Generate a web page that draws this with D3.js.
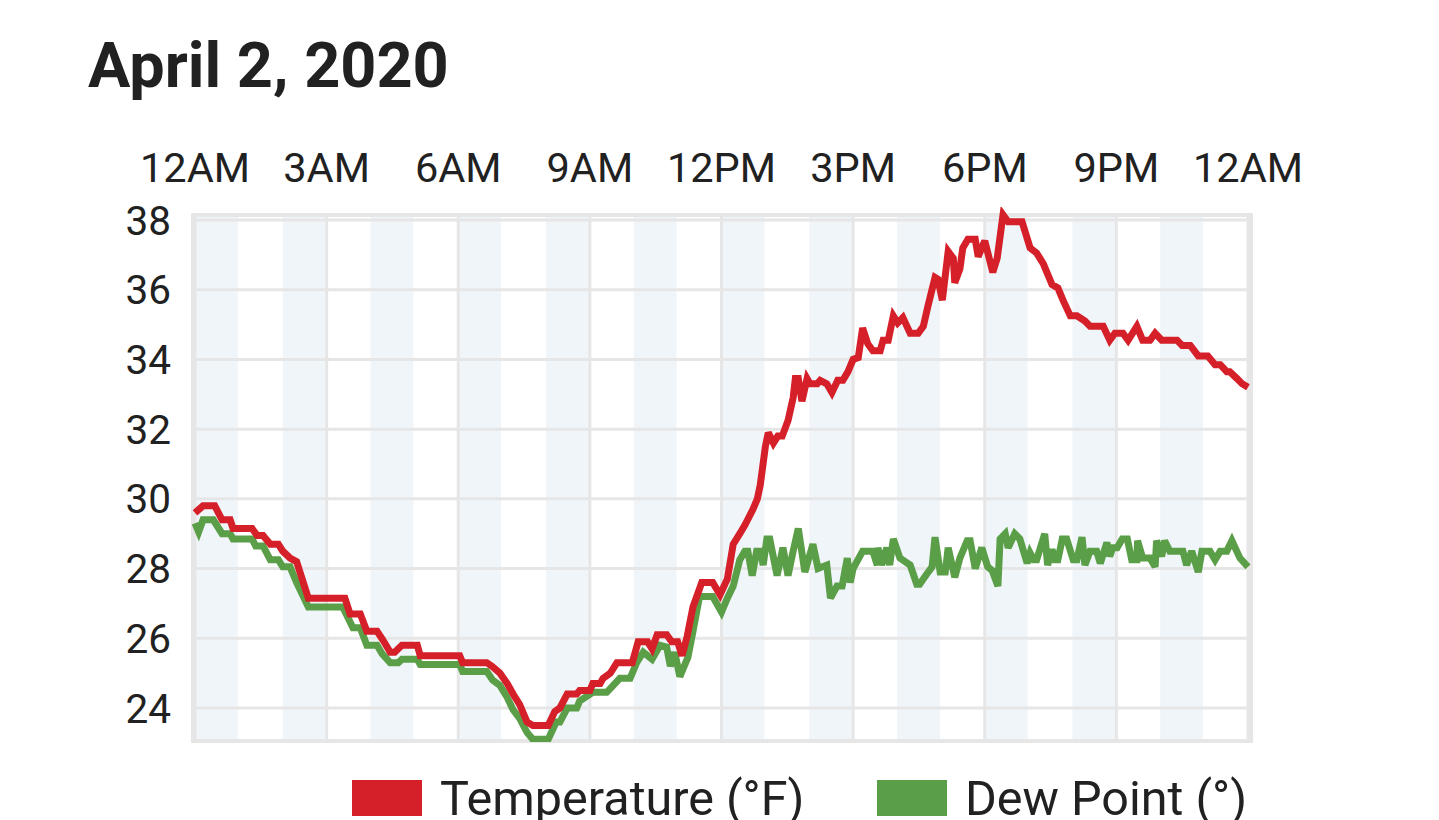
<!DOCTYPE html>
<html>
<head>
<meta charset="utf-8">
<script src="https://cdn.jsdelivr.net/npm/d3@7/dist/d3.min.js"></script>
<style>
  html, body { margin: 0; padding: 0; background: #fff; }
  svg { display: block; font-family: Roboto, "Noto Sans", sans-serif; }
</style>
</head>
<body>
<svg id="chart" width="1439" height="820"></svg>
<script>
// ---- Data (minutes after midnight, values in °F) ----
const title = "April 2, 2020";
const xTickMinutes = [0, 180, 360, 540, 720, 900, 1080, 1260, 1440];
const xTickLabels = ["12AM", "3AM", "6AM", "9AM", "12PM", "3PM", "6PM", "9PM", "12AM"];
const yTicks = [24, 26, 28, 30, 32, 34, 36, 38];
const bandStartHours = [0, 2, 4, 6, 8, 10, 12, 14, 16, 18, 20, 22];
const seriesNames = ["Temperature (°F)", "Dew Point (°)"];

const tempMinutes = [0, 11, 27, 37, 48, 52, 78, 85, 93, 103, 114, 120, 130, 139, 155, 205, 212, 226, 235, 249,
  257, 267, 273, 283, 304, 308, 362, 366, 399, 406, 417, 427, 435, 444, 454, 462, 483, 492, 499, 509,
  522, 526, 540, 544, 554, 558, 568, 577, 598, 606, 619, 625, 632, 645, 652, 660, 666, 673, 681, 693,
  708, 718, 728, 736, 745, 752, 763, 769, 773, 780, 784, 791, 797, 803, 811, 818, 821, 825, 830, 837,
  841, 851, 855, 864, 871, 879, 886, 893, 900, 907, 913, 920, 927, 937, 941, 948, 955, 961, 968, 978,
  989, 996, 1002, 1012, 1016, 1022, 1030, 1037, 1039, 1046, 1050, 1057, 1067, 1071, 1080, 1091, 1097, 1105, 1112, 1131,
  1142, 1151, 1160, 1172, 1180, 1187, 1197, 1206, 1217, 1224, 1242, 1251, 1258, 1269, 1276, 1288, 1296, 1306, 1313, 1322,
  1343, 1350, 1361, 1372, 1385, 1395, 1402, 1411, 1415, 1425, 1432, 1440];
const tempValues = [29.6, 29.8, 29.8, 29.4, 29.4, 29.15, 29.15, 28.95, 28.95, 28.7, 28.7, 28.5, 28.3, 28.2, 27.15, 27.15, 26.7, 26.7, 26.2, 26.2,
  25.95, 25.6, 25.6, 25.8, 25.8, 25.5, 25.5, 25.3, 25.3, 25.2, 25.0, 24.7, 24.4, 24.1, 23.6, 23.5, 23.5, 23.9, 24.0, 24.4,
  24.4, 24.5, 24.5, 24.7, 24.7, 24.85, 25.0, 25.3, 25.3, 25.9, 25.9, 25.7, 26.1, 26.1, 25.9, 25.9, 25.5, 26.05, 26.9, 27.6,
  27.6, 27.25, 27.7, 28.7, 29.0, 29.25, 29.7, 30.0, 30.4, 31.5, 31.9, 31.6, 31.8, 31.8, 32.25, 32.9, 33.45, 33.45, 32.8, 33.45,
  33.3, 33.3, 33.4, 33.3, 33.05, 33.4, 33.4, 33.65, 34.0, 34.05, 34.9, 34.45, 34.25, 34.25, 34.55, 34.55, 35.25, 35.05, 35.2, 34.75,
  34.75, 34.95, 35.5, 36.35, 36.3, 35.7, 37.1, 36.9, 36.2, 36.6, 37.2, 37.45, 37.45, 36.95, 37.4, 36.5, 36.9, 38.15, 37.95, 37.95,
  37.2, 37.05, 36.75, 36.15, 36.05, 35.7, 35.25, 35.25, 35.1, 34.95, 34.95, 34.55, 34.75, 34.75, 34.55, 34.95, 34.55, 34.55, 34.75, 34.55,
  34.55, 34.4, 34.4, 34.1, 34.1, 33.85, 33.85, 33.65, 33.65, 33.45, 33.3, 33.2];

const dewMinutes = [0, 5, 11, 25, 37, 48, 52, 78, 83, 93, 103, 114, 120, 130, 133, 139, 155, 202, 216, 226,
  235, 249, 256, 267, 278, 283, 304, 308, 362, 366, 399, 407, 417, 427, 435, 444, 454, 462, 483, 494,
  499, 509, 522, 526, 533, 544, 563, 572, 581, 595, 604, 613, 625, 636, 645, 650, 656, 663, 674, 681,
  690, 708, 720, 728, 736, 745, 752, 756, 762, 768, 773, 777, 782, 786, 796, 804, 811, 818, 825, 834,
  845, 852, 864, 869, 878, 885, 892, 896, 900, 913, 927, 933, 934, 939, 946, 950, 955, 964, 978, 987,
  991, 1001, 1008, 1012, 1019, 1026, 1030, 1039, 1046, 1056, 1060, 1067, 1076, 1084, 1090, 1098, 1101, 1108, 1112, 1121,
  1128, 1138, 1142, 1147, 1151, 1162, 1166, 1172, 1176, 1180, 1186, 1192, 1201, 1206, 1213, 1217, 1224, 1233, 1238, 1247,
  1251, 1255, 1261, 1268, 1275, 1281, 1288, 1289, 1296, 1306, 1313, 1315, 1322, 1326, 1333, 1351, 1356, 1363, 1372, 1377,
  1388, 1395, 1402, 1411, 1418, 1429, 1440];
const dewValues = [29.3, 29.05, 29.4, 29.4, 29.0, 29.0, 28.85, 28.85, 28.65, 28.65, 28.25, 28.25, 28.05, 28.05, 27.9, 27.6, 26.9, 26.9, 26.3, 26.3,
  25.8, 25.8, 25.55, 25.3, 25.3, 25.4, 25.4, 25.25, 25.25, 25.05, 25.05, 24.8, 24.65, 24.3, 23.95, 23.7, 23.3, 23.1, 23.1, 23.6,
  23.6, 24.0, 24.0, 24.2, 24.3, 24.45, 24.45, 24.65, 24.85, 24.85, 25.3, 25.6, 25.4, 25.8, 25.75, 25.2, 25.6, 24.9, 25.45, 26.2,
  27.2, 27.2, 26.75, 27.15, 27.5, 28.25, 28.5, 28.5, 27.8, 28.5, 28.5, 28.1, 28.85, 28.85, 27.8, 28.6, 27.8, 28.5, 29.15, 27.9,
  28.7, 28.0, 28.1, 27.15, 27.5, 27.5, 28.3, 27.6, 28.0, 28.5, 28.5, 28.1, 28.6, 28.1, 28.6, 28.1, 28.85, 28.3, 28.1, 27.55,
  27.55, 27.85, 28.05, 28.9, 27.9, 27.9, 28.6, 27.75, 28.3, 28.8, 28.8, 28.0, 28.6, 28.05, 27.95, 27.5, 28.85, 29.0, 28.6, 29.0,
  28.85, 28.15, 28.45, 28.25, 28.25, 29.0, 28.1, 28.55, 28.25, 28.25, 28.85, 28.85, 28.25, 28.25, 28.9, 28.1, 28.5, 28.5, 28.15, 28.75,
  28.35, 28.6, 28.6, 28.85, 28.85, 28.25, 28.25, 28.8, 28.3, 28.3, 28.05, 28.8, 28.35, 28.8, 28.5, 28.5, 28.1, 28.5, 27.9, 28.5,
  28.5, 28.25, 28.5, 28.5, 28.8, 28.3, 28.05];

// ---- Layout ----
const colors = { temp: "#d5202a", dew: "#5b9e48", grid: "#e6e6e6", band: "#f0f5fa", text: "#212121" };
const plot = { left: 195, right: 1248, top: 215, bottom: 741 };

const svg = d3.select("#chart");
svg.append("rect").attr("width", 1439).attr("height", 820).attr("fill", "#fff");

const x = d3.scaleLinear().domain([0, 1440]).range([plot.left, plot.right]);
const y = d3.scaleLinear().domain([24, 38]).range([708, 220]);

// Title
svg.append("text")
  .attr("x", 88).attr("y", 87)
  .attr("font-size", 63).attr("font-weight", 700)
  .attr("fill", colors.text)
  .text(title);

// Bands
svg.append("g").selectAll("rect").data(bandStartHours).join("rect")
  .attr("x", d => x(d * 60))
  .attr("width", d => x((d + 1) * 60) - x(d * 60) - 1)
  .attr("y", plot.top)
  .attr("height", plot.bottom - plot.top)
  .attr("fill", colors.band);

// Horizontal grid
svg.append("g").selectAll("line").data(yTicks).join("line")
  .attr("x1", plot.left).attr("x2", plot.right)
  .attr("y1", d => y(d)).attr("y2", d => y(d))
  .attr("stroke", colors.grid).attr("stroke-width", 3);

// Vertical grid
svg.append("g").selectAll("line").data(xTickMinutes).join("line")
  .attr("x1", d => x(d)).attr("x2", d => x(d))
  .attr("y1", plot.top).attr("y2", plot.bottom)
  .attr("stroke", colors.grid).attr("stroke-width", 3);

// Frame
svg.append("rect")
  .attr("x", plot.left - 2).attr("y", plot.top)
  .attr("width", plot.right - plot.left + 5).attr("height", plot.bottom - plot.top)
  .attr("fill", "none").attr("stroke", colors.grid).attr("stroke-width", 4);

// Top x-axis labels
svg.append("g").selectAll("text").data(xTickMinutes).join("text")
  .attr("x", d => x(d)).attr("y", 182)
  .attr("text-anchor", "middle")
  .attr("font-size", 41.5)
  .attr("fill", colors.text)
  .text((d, i) => xTickLabels[i]);

// Y labels
svg.append("g").selectAll("text").data(yTicks).join("text")
  .attr("x", 171).attr("y", d => y(d) + 14.5)
  .attr("text-anchor", "end")
  .attr("font-size", 40.5)
  .attr("fill", colors.text)
  .text(d => d);

// Lines
svg.append("clipPath").attr("id", "plotclip").append("rect")
  .attr("x", plot.left - 4).attr("y", plot.top - 8)
  .attr("width", plot.right - plot.left + 8).attr("height", plot.bottom - plot.top + 9);

const line = d3.line().x(d => x(d[0])).y(d => y(d[1])).curve(d3.curveLinear);
const dewData = dewMinutes.map((m, i) => [m, dewValues[i]]);
const tempData = tempMinutes.map((m, i) => [m, tempValues[i]]);

const lines = svg.append("g").attr("clip-path", "url(#plotclip)");
lines.append("path").datum(dewData).attr("d", line)
  .attr("fill", "none").attr("stroke", colors.dew)
  .attr("stroke-width", 7).attr("stroke-linejoin", "miter").attr("stroke-miterlimit", 3);
lines.append("path").datum(tempData).attr("d", line)
  .attr("fill", "none").attr("stroke", colors.temp)
  .attr("stroke-width", 7).attr("stroke-linejoin", "miter").attr("stroke-miterlimit", 3);

// Legend
const legendItems = [
  { name: seriesNames[0], color: colors.temp, sx: 352, tx: 440 },
  { name: seriesNames[1], color: colors.dew, sx: 877, tx: 965 }
];
const lg = svg.append("g");
legendItems.forEach(it => {
  lg.append("rect").attr("x", it.sx).attr("y", 780).attr("width", 70).attr("height", 36).attr("fill", it.color);
  lg.append("text").attr("x", it.tx).attr("y", 815)
    .attr("font-size", 48.5).attr("fill", colors.text).text(it.name);
});
</script>
</body>
</html>
